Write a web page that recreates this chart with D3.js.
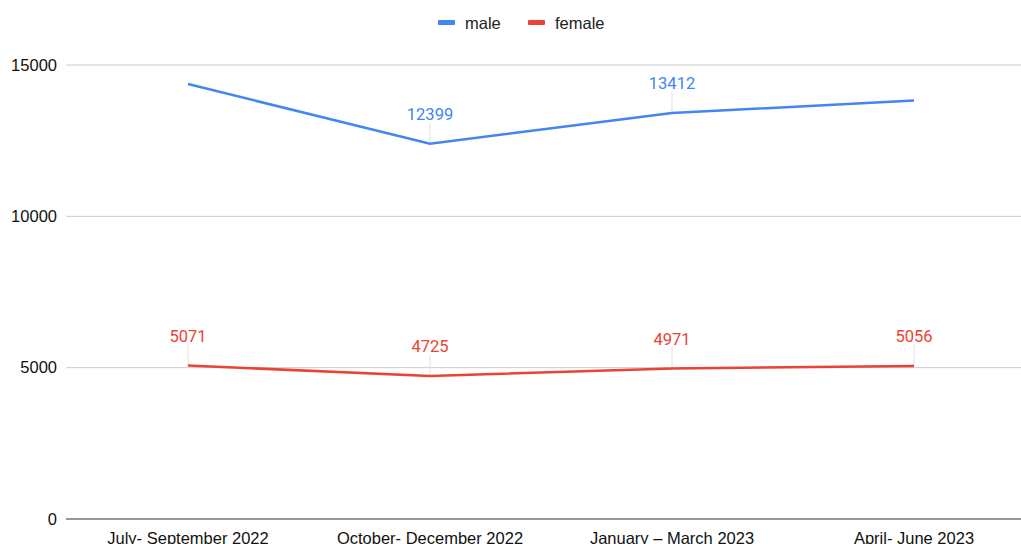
<!DOCTYPE html>
<html>
<head>
<meta charset="utf-8">
<script src="https://cdn.jsdelivr.net/npm/d3@7"></script>
<style>
  body { margin: 0; background: #fff; }
  svg { display: block; }
</style>
</head>
<body>
<svg id="chart" width="1021" height="544"></svg>
<script>
const categories = ['July- September 2022', 'October- December 2022', 'January \u2013 March 2023', 'April- June 2023'];
const maleValues = [14370, 12399, 13412, 13825];
const femaleValues = [5071, 4725, 4971, 5056];
const maleLabels = [false, true, true, false];
const femaleLabels = [true, true, true, true];
const yTicks = [0, 5000, 10000, 15000];

const series = [
  { name: 'male', color: '#4285f4', values: maleValues, labels: maleLabels },
  { name: 'female', color: '#ea4335', values: femaleValues, labels: femaleLabels },
];

const svg = d3.select('#chart');
const plotLeft = 67, plotRight = 1035, plotTop = 65, plotBottom = 519;
const axisFont = 'Liberation Sans, Arial, sans-serif';

const x = d3.scaleBand().domain(categories).range([plotLeft, plotRight]);
const y = d3.scaleLinear().domain([0, 15000]).range([plotBottom, plotTop]);
const cx = (c) => x(c) + x.bandwidth() / 2;

// gridlines
svg.append('g').selectAll('line').data(yTicks.filter(d => d > 0)).join('line')
  .attr('x1', plotLeft - 1).attr('x2', 1021)
  .attr('y1', d => y(d)).attr('y2', d => y(d))
  .attr('stroke', '#cccccc').attr('stroke-width', 1);

// y tick labels
svg.append('g').selectAll('text').data(yTicks).join('text')
  .attr('x', 57).attr('y', d => y(d)).attr('dy', '0.35em')
  .attr('text-anchor', 'end')
  .style('font-family', axisFont).style('font-size', '16.5px')
  .attr('fill', '#111').text(d => d);

// baseline
svg.append('line').attr('x1', plotLeft - 1).attr('x2', 1021)
  .attr('y1', y(0)).attr('y2', y(0)).attr('stroke', '#333').attr('stroke-width', 1);

// x labels
svg.append('g').selectAll('text').data(categories).join('text')
  .attr('x', d => cx(d)).attr('y', 544)
  .attr('text-anchor', 'middle')
  .style('font-family', axisFont).style('font-size', '16.5px')
  .attr('fill', '#111').text(d => d);

const line = d3.line().x((d, i) => cx(categories[i])).y(d => y(d));

series.forEach(s => {
  const g = svg.append('g');
  const pts = s.values.map((v, i) => ({ v, i, show: s.labels[i] })).filter(d => d.show);
  // leader lines
  g.selectAll('line.lead').data(pts).join('line').attr('class', 'lead')
    .attr('x1', d => cx(categories[d.i])).attr('x2', d => cx(categories[d.i]))
    .attr('y1', d => y(d.v)).attr('y2', d => y(d.v) - 21)
    .attr('stroke', '#e0e0e0').attr('stroke-width', 1);
  g.append('path').datum(s.values).attr('d', line)
    .attr('fill', 'none').attr('stroke', s.color).attr('stroke-width', 2.5);
  g.selectAll('text').data(pts).join('text')
    .attr('x', d => cx(categories[d.i])).attr('y', d => y(d.v) - 24)
    .attr('text-anchor', 'middle')
    .style('font-family', 'Roboto, sans-serif').style('font-size', '16.5px')
    .attr('fill', s.color).text(d => d.v);
});

// legend
const legend = svg.append('g');
const legendX = [438, 528];
series.forEach((s, i) => {
  legend.append('rect').attr('x', legendX[i]).attr('y', 20).attr('width', 17).attr('height', 5)
    .attr('rx', 1).attr('fill', s.color);
  legend.append('text').attr('x', legendX[i] + 27).attr('y', 23).attr('dy', '0.35em')
    .style('font-family', axisFont).style('font-size', '16.5px')
    .attr('fill', '#222').text(s.name);
});
</script>
</body>
</html>
